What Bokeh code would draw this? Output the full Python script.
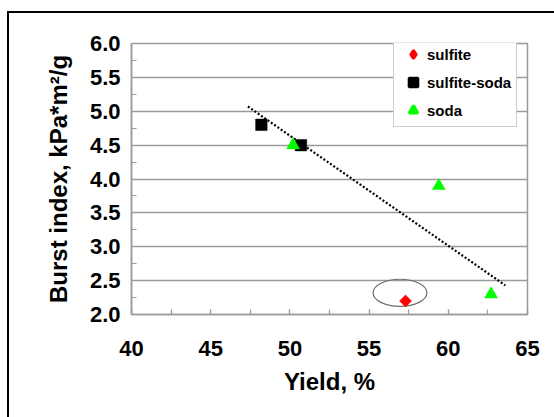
import numpy as np
from bokeh.plotting import figure
from bokeh.models import (Range1d, SingleIntervalTicker, NumeralTickFormatter, Legend,
                          LegendItem)
from bokeh.embed import file_html
from bokeh.resources import INLINE

# ---- data ----
sulfite_x = [57.3]
sulfite_y = [2.2]
sulfite_soda_x = [48.2, 50.7]
sulfite_soda_y = [4.8, 4.5]
soda_x = [50.2, 59.4, 62.7]
soda_y = [4.5, 3.9, 2.3]
trend_x = [47.35, 63.6]
trend_y = [5.07, 2.43]
ellipse_cx = [56.95]
ellipse_cy = [2.32]
ellipse_w = [3.4]
ellipse_h = [0.4]

GRAY = "#9a9a9a"
FONT = "Liberation Sans"

p = figure(width=554, height=417, x_range=Range1d(40, 65), y_range=Range1d(2, 6),
           output_backend="svg", toolbar_location=None,
           min_border_left=131, min_border_right=27, min_border_top=43, min_border_bottom=103)

# outer black frame of the picture: only its left and top edges are in view
p.styles = {"box-shadow": "inset 7px 11px 0 0 white, inset 9px 13px 0 0 black",
            "background-color": "white"}
p.border_fill_color = None
p.background_fill_color = "white"
p.outline_line_color = GRAY
p.outline_line_width = 1.5

# grid
p.xgrid.grid_line_color = None
p.ygrid.grid_line_color = GRAY
p.ygrid.grid_line_width = 1.5

# axes
p.xaxis.ticker = SingleIntervalTicker(interval=5, num_minor_ticks=2)
p.yaxis.ticker = SingleIntervalTicker(interval=0.5, num_minor_ticks=2)
p.yaxis.formatter = NumeralTickFormatter(format="0.0")
for ax in (p.xaxis[0], p.yaxis[0]):
    ax.axis_line_color = GRAY
    ax.axis_line_width = 1.5
    ax.major_tick_line_color = GRAY
    ax.minor_tick_line_color = GRAY
    ax.major_tick_line_width = 1.2
    ax.minor_tick_line_width = 1.2
    ax.major_tick_in = 5
    ax.major_tick_out = 0
    ax.minor_tick_in = 5
    ax.minor_tick_out = 0
    ax.major_label_text_font = FONT
    ax.major_label_text_font_style = "bold"
    ax.major_label_text_font_size = "22px"
    ax.major_label_text_color = "black"
    ax.axis_label_text_font = FONT
    ax.axis_label_text_font_style = "bold"
    ax.axis_label_text_font_size = "24px"
    ax.axis_label_text_color = "black"

p.xaxis.axis_label = "Yield, %"
p.yaxis.axis_label = "Burst index, kPa*m²/g"
p.xaxis.major_label_standoff = 26
p.xaxis.axis_label_standoff = 9
p.yaxis.major_label_standoff = 11
p.yaxis.axis_label_standoff = 15

# trend line
p.line(trend_x, trend_y, line_color="black", line_width=2.2, line_dash="2 2")

# ellipse
p.ellipse(x=ellipse_cx, y=ellipse_cy, width=ellipse_w, height=ellipse_h,
          fill_color=None, line_color="#707070", line_width=1.2)

# markers
p.scatter(sulfite_x, sulfite_y, marker="square", angle=np.pi / 4, size=8.5,
          fill_color="#ff0000", line_color="#ff0000", line_width=0.5)
p.scatter(sulfite_soda_x, sulfite_soda_y, marker="square", size=11.5,
          fill_color="black", line_color="black", line_width=0.5)
p.scatter(soda_x, soda_y, marker="triangle", size=13,
          fill_color="#00ff00", line_color="#00ff00", line_width=0.5)

# legend key glyphs (not data marks: they hold no value, only the legend look)
nan = np.array([np.nan])
lg_sulfite = p.scatter(nan, nan, marker="diamond", fill_color="#ff0000",
                       line_color="#ff0000", line_width=2.5)
lg_ss = p.scatter(nan, nan, marker="square", fill_color="black",
                  line_color="black", line_width=2.8)
lg_soda = p.scatter(nan, nan, marker="triangle", fill_color="#00ff00",
                    line_color="#00ff00", line_width=2.8)

legend = Legend(items=[LegendItem(label="sulfite", renderers=[lg_sulfite]),
                       LegendItem(label="sulfite-soda", renderers=[lg_ss]),
                       LegendItem(label="soda", renderers=[lg_soda])],
                location=(262, 187))
legend.label_text_font = FONT
legend.label_text_font_style = "bold"
legend.label_text_font_size = "15px"
legend.label_text_color = "black"
legend.border_line_color = GRAY
legend.border_line_width = 1.5
legend.background_fill_color = "white"
legend.background_fill_alpha = 1.0
legend.padding = 5
legend.spacing = 6
legend.glyph_width = 28
legend.glyph_height = 22
legend.label_height = 22
legend.label_standoff = 0
legend.margin = 0
p.add_layout(legend, "center")

open("out.html", "w").write(file_html(p, INLINE))
